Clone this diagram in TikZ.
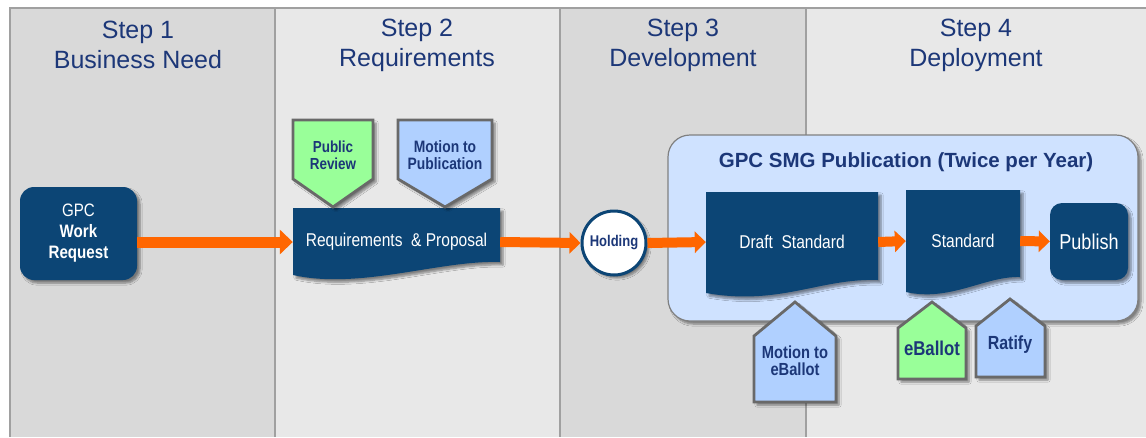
\documentclass[tikz,border=0pt]{standalone}
\usepackage{fontspec}
\setmainfont{Liberation Sans}
\newfontfamily\narrowfont{Liberation Sans}[FakeStretch=0.84]
\usetikzlibrary{arrows.meta,shadows.blur,calc}
\definecolor{navy}{RGB}{12,69,117}
\definecolor{hdrblue}{RGB}{28,55,120}
\definecolor{lblue}{RGB}{176,208,255}
\definecolor{lgreen}{RGB}{153,255,153}
\definecolor{contfill}{RGB}{207,226,255}
\definecolor{contline}{RGB}{128,128,128}
\definecolor{laneA}{RGB}{217,217,217}
\definecolor{laneB}{RGB}{232,232,232}
\definecolor{laneline}{RGB}{160,160,160}
\definecolor{flow}{RGB}{255,102,0}
\definecolor{tagline}{RGB}{105,105,105}
\tikzset{
  sh/.style={blur shadow={shadow xshift=3pt,shadow yshift=-3pt,shadow blur steps=6,shadow opacity=45}},
  hdr/.style={font=\fontsize{25}{30}\selectfont, text=hdrblue, align=center},
  navybox/.style={fill=navy, draw=none, text=white, align=center, inner sep=0pt, sh},
  lbl/.style={draw=none, text=white, align=center, inner sep=0pt, font=\narrowfont\fontsize{18.5}{22}\selectfont},
  tagshape/.style={draw=tagline, line width=2.8pt, line join=miter, sh},
  taglbl/.style={text=hdrblue, align=center, inner sep=0pt},
  flowarrow/.style={draw=flow, line width=11pt, -{Triangle[width=24pt,length=13pt]}},
  smallflow/.style={draw=flow, line width=10pt, -{Triangle[width=21pt,length=11pt]}},
}
\begin{document}
\begin{tikzpicture}[x=1pt,y=-1pt]
\useasboundingbox (0,0) rectangle (1146,437);
\fill[white] (0,0) rectangle (1146,437);
% lanes
\fill[laneA] (10,8) rectangle (275,437);
\fill[laneB] (275,8) rectangle (560,437);
\fill[laneA] (560,8) rectangle (806,437);
\fill[laneB] (806,8) rectangle (1146,437);
\draw[laneline, line width=2pt] (10,437) -- (10,8) -- (1146,8);
\draw[laneline, line width=2pt] (275,8) -- (275,437);
\draw[laneline, line width=2pt] (560,8) -- (560,437);
\draw[laneline, line width=2pt] (806,8) -- (806,437);
% headers
\node[hdr] (h1) at (138,45) {Step 1\\Business Need};
\node[hdr] (h2) at (417,45) {Step 2\\Requirements};
\node[hdr] (h3) at (683,45) {Step 3\\Development};
\node[hdr] (h4) at (976,45) {Step 4\\Deployment};
% publication container
\node[draw=contline, line width=1.2pt, fill=contfill, rounded corners=22pt, minimum width=470pt, minimum height=186pt, sh] (pub) at (903,228) {};
\node[font=\bfseries\fontsize{20.5}{24}\selectfont, text=hdrblue] (pubtitle) at (906,162) {GPC SMG Publication (Twice per Year)};
% step 1
\node[navybox, rounded corners=14pt, minimum width=117pt, minimum height=93pt, font=\narrowfont\fontsize{18}{21}\selectfont] (gpc) at (78.5,233.5) {GPC\\\textbf{Work}\\\textbf{Request}};
% requirements document
\path[fill=navy, sh] (293,208) -- (500,208) -- (500,262) .. controls (440,260) and (360,290) .. (293,275) -- cycle;
\node[lbl, minimum width=207pt, minimum height=68pt] (req) at (396.5,242) {Requirements\ \ \&\ Proposal};
% tags step 2
\path[tagshape, fill=lgreen] (293,120) -- (373,120) -- (373,179) -- (333,207) -- (293,179) -- cycle;
\node[taglbl, font=\narrowfont\bfseries\fontsize{16}{17}\selectfont] (pr) at (333,155) {Public\\Review};
\path[tagshape, fill=lblue] (398,120) -- (492,120) -- (492,179) -- (445,207) -- (398,179) -- cycle;
\node[taglbl, font=\narrowfont\bfseries\fontsize{16.5}{17}\selectfont] (mp) at (445,155) {Motion to\\Publication};
% holding
\node[circle, draw=navy, line width=3pt, fill=white, minimum size=64pt, inner sep=0pt, sh, font=\narrowfont\bfseries\fontsize{15.5}{16}\selectfont, text=hdrblue] (hold) at (614,243) {Holding};
% draft standard
\path[fill=navy, sh] (706,192) -- (878,192) -- (878,280) .. controls (820,278) and (780,306) .. (706,293) -- cycle;
\node[lbl, minimum width=172pt, minimum height=100pt] (draft) at (792,242) {Draft\ \ Standard};
% standard
\path[fill=navy, sh] (906,190) -- (1020,190) -- (1020,277) .. controls (985,276) and (950,302) .. (906,292) -- cycle;
\node[lbl, minimum width=114pt, minimum height=102pt] (std) at (963,241) {Standard};
% publish
\node[navybox, rounded corners=12pt, minimum width=78pt, minimum height=77pt, font=\narrowfont\fontsize{21.5}{24}\selectfont] (publish) at (1089,241.5) {Publish};
% tags step 4
\path[tagshape, fill=lblue] (795,302) -- (836,336) -- (836,402) -- (754,402) -- (754,336) -- cycle;
\node[taglbl, font=\narrowfont\bfseries\fontsize{17.5}{17}\selectfont] (me) at (795,361) {Motion to\\eBallot};
\path[tagshape, fill=lgreen] (932,302) -- (966,328) -- (966,379) -- (898,379) -- (898,328) -- cycle;
\node[taglbl, font=\narrowfont\bfseries\fontsize{20}{22}\selectfont] (eb) at (932,348) {eBallot};
\path[tagshape, fill=lblue] (1010,299) -- (1045,326) -- (1045,377) -- (976,377) -- (976,326) -- cycle;
\node[taglbl, font=\narrowfont\bfseries\fontsize{19}{22}\selectfont] (rat) at (1010,345) {Ratify};
% flow arrows
\draw[flowarrow] (gpc.east |- req.west) -- (req.west);
\draw[smallflow] (req.east) -- (hold.west);
\draw[smallflow] (hold.east) -- (draft.west);
\draw[smallflow] (draft.east) -- (std.west);
\draw[smallflow] (std.east) -- (publish.west);
\end{tikzpicture}
\end{document}
